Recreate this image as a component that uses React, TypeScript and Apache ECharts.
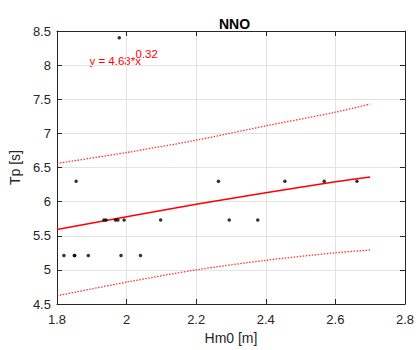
import React, { useEffect, useRef } from "react";
import * as echarts from "echarts";

// Observed data (Hm0 [m], Tp [s])
const hm0 = [1.82, 1.85, 1.851, 1.89, 1.984, 2.04, 1.855, 1.935, 1.941, 1.968, 1.975, 1.993, 2.098, 2.264, 2.295, 2.377, 2.455, 2.568, 2.662, 1.979];
const tp = [5.21, 5.21, 5.21, 5.21, 5.21, 5.21, 6.3, 5.73, 5.73, 5.73, 5.73, 5.73, 5.73, 6.3, 5.73, 5.73, 6.3, 6.3, 6.3, 8.4];

// Fitted curve y = 4.63*x^0.32 and its bounds, read at these Hm0 values
const curveX = [1.8, 2.0, 2.2, 2.4, 2.6, 2.7];
const fitY = [5.59, 5.78, 5.96, 6.13, 6.29, 6.36];
const upperY = [6.56, 6.72, 6.9, 7.11, 7.31, 7.43];
const lowerY = [4.62, 4.82, 5.0, 5.14, 5.25, 5.29];

const title = "NNO";
const xName = "Hm0 [m]";
const yName = "Tp [s]";
const eqMain = "y = 4.63*x";
const eqExp = "0.32";

const FONT = "'Liberation Sans', Arial, Helvetica, sans-serif";

export default function App() {
  const ref = useRef<HTMLDivElement>(null);

  useEffect(() => {
    if (!ref.current) return;
    const chart = echarts.init(ref.current, undefined, { renderer: "svg" });
    const pairs = (xs: number[], ys: number[]) => xs.map((x, i) => [x, ys[i]]);
    const axisLine = { show: true, lineStyle: { color: "#262626", width: 1 } };
    const tick = { show: true, inside: true, length: 5, lineStyle: { color: "#262626" } };
    const grid = { left: 54, right: 12, top: 31, bottom: 46 };
    const dotted = { color: "#ff0000", width: 1.3, type: [1.5, 1.5], opacity: 0.8 };

    chart.setOption({
      animation: false,
      backgroundColor: "#ffffff",
      textStyle: { fontFamily: FONT },
      title: {
        text: title,
        left: 229.5,
        top: 12,
        textAlign: "center",
        textStyle: { fontFamily: FONT, fontSize: 14, fontWeight: "bold", color: "#000000" },
      },
      grid,
      xAxis: [
        {
          type: "value",
          min: 1.8,
          max: 2.8,
          interval: 0.2,
          position: "bottom",
          name: xName,
          nameLocation: "middle",
          nameGap: 27,
          nameTextStyle: { fontFamily: FONT, fontSize: 14, color: "#262626" },
          axisLine,
          axisTick: tick,
          axisLabel: { fontFamily: FONT, fontSize: 13, color: "#262626", margin: 9 },
          splitLine: { show: true, lineStyle: { color: "#e3e3e3", width: 1 } },
        },
        {
          type: "value",
          min: 1.8,
          max: 2.8,
          interval: 0.2,
          position: "top",
          axisLine,
          axisTick: tick,
          axisLabel: { show: false },
          splitLine: { show: false },
        },
      ],
      yAxis: [
        {
          type: "value",
          min: 4.5,
          max: 8.5,
          interval: 0.5,
          position: "left",
          name: yName,
          nameLocation: "middle",
          nameGap: 33,
          nameTextStyle: { fontFamily: FONT, fontSize: 14, color: "#262626" },
          axisLine,
          axisTick: tick,
          axisLabel: { fontFamily: FONT, fontSize: 13, color: "#262626", margin: 6 },
          splitLine: { show: true, lineStyle: { color: "#e3e3e3", width: 1 } },
        },
        {
          type: "value",
          min: 4.5,
          max: 8.5,
          interval: 0.5,
          position: "right",
          axisLine,
          axisTick: tick,
          axisLabel: { show: false },
          splitLine: { show: false },
        },
      ],
      series: [
        {
          type: "line",
          name: "upper",
          data: pairs(curveX, upperY),
          smooth: 0.3,
          symbol: "none",
          lineStyle: dotted,
        },
        {
          type: "line",
          name: "lower",
          data: pairs(curveX, lowerY),
          smooth: 0.3,
          symbol: "none",
          lineStyle: dotted,
        },
        {
          type: "line",
          name: "fit",
          data: pairs(curveX, fitY),
          smooth: 0.3,
          symbol: "none",
          lineStyle: { color: "#ff0000", width: 1.5 },
        },
        {
          type: "scatter",
          name: "obs",
          data: pairs(hm0, tp),
          symbol: "circle",
          symbolSize: 3.5,
          itemStyle: { color: "#000000" },
          z: 5,
        },
      ],
      graphic: [
        {
          type: "text",
          x: 89.5,
          y: 61.3,
          style: {
            text: eqMain,
            fill: "#ff0000",
            fontFamily: FONT,
            fontSize: 11.5,
            verticalAlign: "middle",
            align: "left",
          },
        },
        {
          type: "text",
          x: 135.5,
          y: 53.5,
          style: {
            text: eqExp,
            fill: "#ff0000",
            fontFamily: FONT,
            fontSize: 11.5,
            verticalAlign: "middle",
            align: "left",
          },
        },
      ],
    });

    return () => chart.dispose();
  }, []);

  return (
    <div
      ref={ref}
      style={{ position: "fixed", left: 0, top: 0, width: 417, height: 350, background: "#fff" }}
    />
  );
}
